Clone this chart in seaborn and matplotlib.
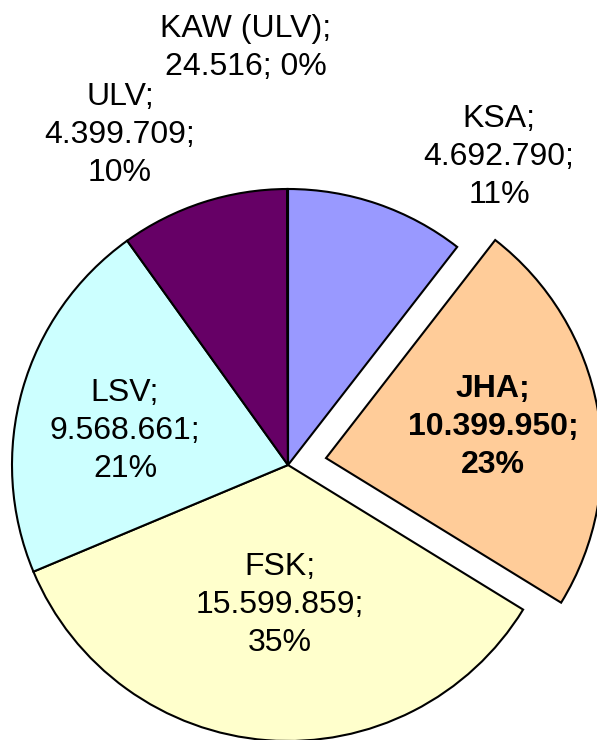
import matplotlib
matplotlib.use("Agg")
import matplotlib.pyplot as plt
import seaborn as sns

sns.set_style("white")
plt.rcParams['font.family'] = ['Liberation Sans', 'DejaVu Sans']

# Data
categories = ["KSA", "JHA", "FSK", "LSV", "ULV", "KAW (ULV)"]
values = [4692790, 10399950, 15599859, 9568661, 4399709, 24516]
value_labels = ["4.692.790", "10.399.950", "15.599.859", "9.568.661", "4.399.709", "24.516"]
percent_labels = ["11%", "23%", "35%", "21%", "10%", "0%"]
colors = ["#9999FF", "#FFCC99", "#FFFFCC", "#CCFFFF", "#660066", "#FF8080"]
explode = [0, 0.14, 0, 0, 0, 0]

W, H = 597, 740
fig = plt.figure(figsize=(W / 100, H / 100), dpi=100)
ax = fig.add_axes([0, 0, 1, 1])

cx, cy, R = 288, 465, 276  # pixel centre and radius of pie
ax.pie(values, colors=colors, explode=explode, startangle=90, counterclock=False,
       radius=1, wedgeprops=dict(edgecolor="black", linewidth=1.5))
ax.set_xlim(-cx / R, (W - cx) / R)
ax.set_ylim(-(H - cy) / R, cy / R)
ax.set_aspect("equal")
ax.axis("off")

# Label block centres in pixel coordinates
label_pos = {
    "KSA": (499, 157),
    "JHA": (493, 427),
    "FSK": (280, 605),
    "LSV": (125, 431),
    "ULV": (120, 135),
    "KAW (ULV)": (246, 48),
}

for cat, v, p in zip(categories, values, percent_labels):
    i = categories.index(cat)
    if cat == "KAW (ULV)":
        txt = f"{cat};\n{value_labels[i]}; {p}"
    else:
        txt = f"{cat};\n{value_labels[i]};\n{p}"
    px, py = label_pos[cat]
    fig.text(px / W, 1 - py / H, txt, ha="center", va="center", fontsize=23,
             linespacing=1.34, fontweight="bold" if cat == "JHA" else "normal",
             color="black")

fig.savefig("out.png", dpi=100)
